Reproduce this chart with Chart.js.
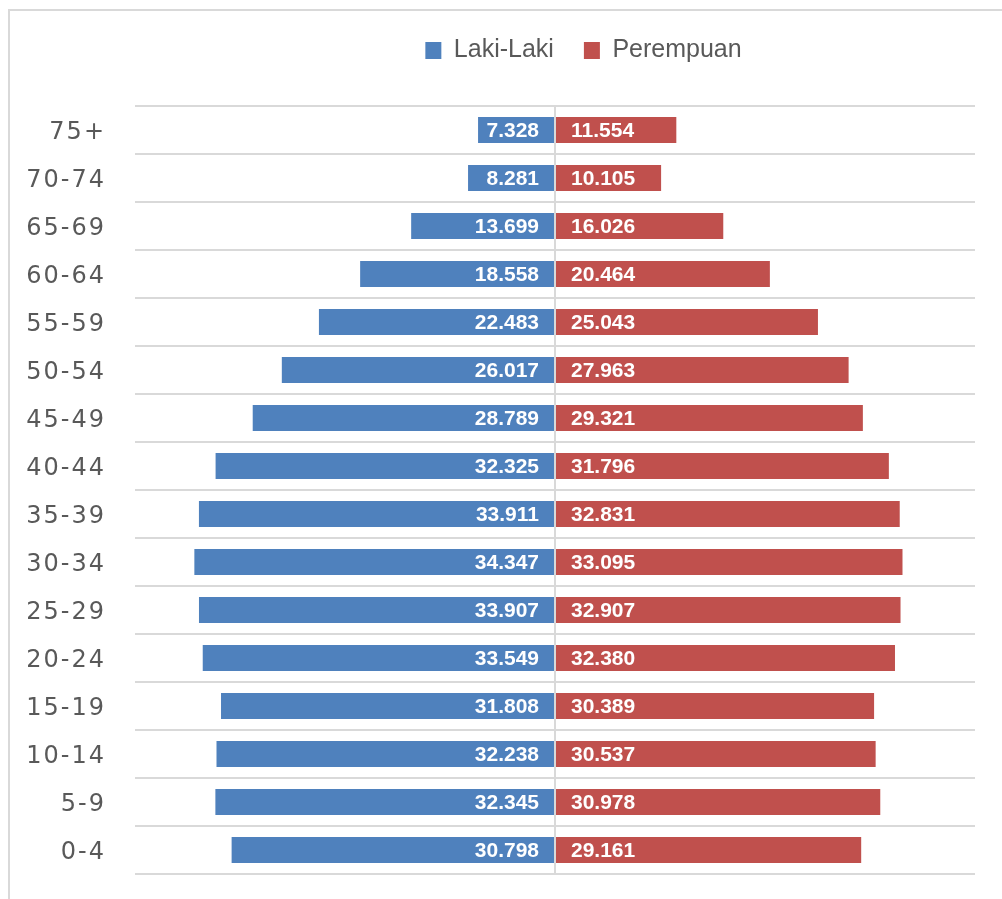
<!DOCTYPE html>
<html>
<head>
<meta charset="utf-8">
<title>Piramida Penduduk</title>
<script src="https://cdn.jsdelivr.net/npm/chart.js@4.4.1/dist/chart.umd.min.js"></script>
<style>
    html, body { margin: 0; padding: 0; background: #ffffff; }
    #frame {
        position: absolute;
        left: 8px;
        top: 9px;
        width: 1100px;
        height: 1000px;
        border-left: 2px solid #d9d9d9;
        border-top: 2px solid #d9d9d9;
    }
    #wrap { position: absolute; left: 0; top: 0; width: 1002px; height: 899px; }
</style>
</head>
<body>
<div id="frame"></div>
<div id="wrap"><canvas id="pyramidChart" width="1002" height="899"></canvas></div>
<script>
// Kelompok umur (atas ke bawah)
const ageGroups = ['75+', '70-74', '65-69', '60-64', '55-59', '50-54', '45-49', '40-44',
    '35-39', '30-34', '25-29', '20-24', '15-19', '10-14', '5-9', '0-4'];

// Jumlah penduduk (ribu)
const lakiLaki = [7.328, 8.281, 13.699, 18.558, 22.483, 26.017, 28.789, 32.325,
    33.911, 34.347, 33.907, 33.549, 31.808, 32.238, 32.345, 30.798];
const perempuan = [11.554, 10.105, 16.026, 20.464, 25.043, 27.963, 29.321, 31.796,
    32.831, 33.095, 32.907, 32.380, 30.389, 30.537, 30.978, 29.161];

const seriesNames = ['Laki-Laki', 'Perempuan'];
const axisMin = -40;
const axisMax = 40;

const BLUE = '#4f81bd';
const RED = '#c0504d';
const GRID = '#d9d9d9';
const TEXT = '#595959';

// Value labels inside the bars, next to the centre line
const barLabels = {
    id: 'barLabels',
    afterLayout(chart) {
        // legend sits a bit right of centre in the original
        chart.legend.left += 96;
        chart.legend.right += 96;
    },
    afterDatasetsDraw(chart) {
        const ctx = chart.ctx;
        ctx.save();
        ctx.font = 'bold 21px "Liberation Sans", Arial, sans-serif';
        ctx.fillStyle = '#ffffff';
        ctx.textBaseline = 'middle';
        chart.data.datasets.forEach((ds, i) => {
            const meta = chart.getDatasetMeta(i);
            meta.data.forEach((bar, j) => {
                const value = ds.rawValues[j];
                const text = value.toFixed(3);
                if (ds.data[j] < 0) {
                    ctx.textAlign = 'right';
                    ctx.fillText(text, bar.base - 15, bar.y + 1);
                } else {
                    ctx.textAlign = 'left';
                    ctx.fillText(text, bar.base + 15, bar.y + 1);
                }
            });
        });
        ctx.restore();
        // the age labels are drawn after this with wide spacing
        ctx.letterSpacing = '2px';
    },
    afterDraw(chart) {
        chart.ctx.letterSpacing = '0px';
    }
};

const ctx = document.getElementById('pyramidChart');

new Chart(ctx, {
    type: 'bar',
    data: {
        labels: ageGroups,
        datasets: [
            {
                label: seriesNames[0],
                data: lakiLaki.map(v => -v),
                rawValues: lakiLaki,
                backgroundColor: BLUE,
                borderWidth: 0,
                barPercentage: 0.9,
                categoryPercentage: 0.6
            },
            {
                label: seriesNames[1],
                data: perempuan,
                rawValues: perempuan,
                backgroundColor: RED,
                borderWidth: 0,
                barPercentage: 0.9,
                categoryPercentage: 0.6
            }
        ]
    },
    options: {
        indexAxis: 'y',
        responsive: false,
        animation: false,
        layout: {
            padding: { top: 8, left: 0, right: 27, bottom: 25 }
        },
        plugins: {
            legend: {
                display: true,
                position: 'top',
                align: 'center',
                labels: {
                    boxWidth: 16,
                    boxHeight: 17,
                    padding: 30,
                    color: TEXT,
                    font: { family: '"Liberation Sans", Arial, sans-serif', size: 25 }
                }
            },
            tooltip: { enabled: false }
        },
        scales: {
            x: {
                position: 'top',
                stacked: true,
                min: axisMin,
                max: axisMax,
                ticks: { display: false, stepSize: 40 },
                border: { display: false },
                grid: {
                    z: 1,
                    drawTicks: false,
                    lineWidth: 2,
                    color: (c) => (c.tick && c.tick.value === 0 ? GRID : 'rgba(0,0,0,0)')
                },
                afterFit: (scale) => { scale.height = 33; }
            },
            y: {
                stacked: true,
                border: { display: false },
                grid: {
                    offset: true,
                    drawTicks: true,
                    tickLength: 21,
                    tickColor: 'rgba(0,0,0,0)',
                    color: GRID,
                    lineWidth: 2
                },
                ticks: {
                    z: 1,
                    padding: 8,
                    labelOffset: 3,
                    color: TEXT,
                    font: { family: '"DejaVu Sans", sans-serif', size: 24 }
                },
                afterFit: (scale) => { scale.width = 135; }
            }
        }
    },
    plugins: [barLabels]
});
</script>
</body>
</html>
